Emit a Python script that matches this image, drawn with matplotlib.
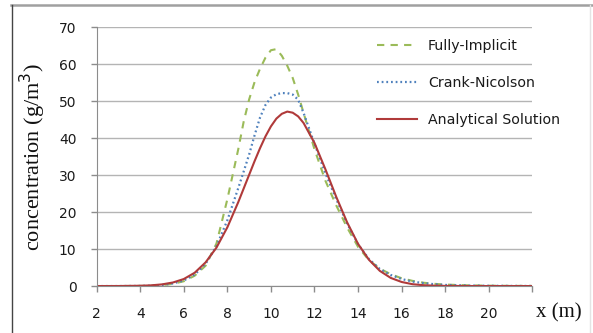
import matplotlib
matplotlib.use("Agg")
import matplotlib.pyplot as plt
from matplotlib.lines import Line2D

# distance along the channel (m)
x_m = [2, 3, 4, 4.5, 5, 5.5, 6, 6.5, 7, 7.5, 8, 8.5, 8.75, 9, 9.25, 9.5, 9.75,
       10, 10.25, 10.5, 10.75, 11, 11.25, 11.5, 12, 12.5, 13, 13.5, 14, 14.5,
       15, 15.5, 16, 16.5, 17, 17.5, 18, 19, 20, 21, 22]

# concentration (g/m3) for each scheme
fully_implicit = [0, 0, 0.03, 0.08, 0.25, 0.6, 1.3, 2.8, 5.5, 11.5, 23.5, 37.0,
                  44.5, 50.5, 55.2, 58.8, 61.8, 63.8, 64.1, 62.3, 59.6, 56.3,
                  51.8, 46.8, 37.0, 28.5, 21.8, 15.8, 10.6, 7.0, 4.7, 3.2, 2.1,
                  1.4, 0.9, 0.6, 0.4, 0.2, 0.1, 0.05, 0.03]
crank_nicolson = [0, 0, 0.03, 0.1, 0.3, 0.7, 1.5, 3.1, 6.0, 10.8, 17.8, 26.5,
                  31.0, 35.6, 40.8, 45.6, 49.0, 51.0, 51.9, 52.2, 52.2, 51.8,
                  50.4, 46.8, 38.5, 30.5, 23.5, 16.9, 11.3, 7.3, 4.6, 3.0, 1.9,
                  1.2, 0.8, 0.5, 0.3, 0.15, 0.08, 0.04, 0.02]
analytical = [0, 0.01, 0.08, 0.19, 0.45, 0.96, 1.9, 3.6, 6.4, 10.4, 15.9, 22.7,
              26.4, 30.1, 33.8, 37.3, 40.5, 43.2, 45.3, 46.6, 47.2, 46.9, 45.9,
              44.1, 38.7, 31.6, 24.1, 17.2, 11.4, 7.1, 4.1, 2.2, 1.1, 0.5, 0.23,
              0.1, 0.04, 0.01, 0, 0, 0]

x_ticks = [2, 4, 6, 8, 10, 12, 14, 16, 18, 20]
y_ticks = [0, 10, 20, 30, 40, 50, 60, 70]

sans = ["DejaVu Sans"]
serif = ["Liberation Serif", "DejaVu Serif"]

fig = plt.figure(figsize=(5.93, 3.33), dpi=100)
ax = fig.add_axes([0.163, 0.141, 0.7347, 0.777])

ax.plot(x_m, fully_implicit, color="#9BBB59", lw=1.5,
        linestyle=(0, (3.5, 3)), label="Fully-Implicit")
ax.plot(x_m, crank_nicolson, color="#4F81BD", lw=1.6,
        linestyle=(0, (0.8, 1.3)), label="Crank-Nicolson")
ax.plot(x_m, analytical, color="#B03A3A", lw=1.5, label="Analytical Solution")

ax.set_xlim(2, 22)
ax.set_ylim(0, 70)
ax.set_xticks(x_ticks + [22])
ax.set_xticklabels([str(t) for t in x_ticks] + [""])
ax.set_yticks(y_ticks)

ax.grid(axis="y", color="#b4b4b4", lw=1)
ax.set_axisbelow(True)
for side in ("top", "right"):
    ax.spines[side].set_visible(False)
for side in ("left", "bottom"):
    ax.spines[side].set_color("#8c8c8c")
ax.tick_params(axis="both", colors="#8c8c8c", length=4.5, width=1,
               labelcolor="#1a1a1a")
ax.tick_params(axis="x", pad=10.5)
ax.tick_params(axis="y", pad=10)
for lbl in ax.get_xticklabels() + ax.get_yticklabels():
    lbl.set_family(sans)
    lbl.set_fontsize(10)

ax.set_ylabel("concentration (g/m$^3$)", family=serif, fontsize=16,
              color="#111111", labelpad=8)
fig.text(536 / 593, 1 - 313 / 333, "x (m)", family=serif, fontsize=15,
         color="#111111", ha="left", va="center")

leg = ax.legend(loc="upper left", bbox_to_anchor=(370 / 593, 1 - 32 / 333),
                bbox_transform=fig.transFigure, frameon=False, borderpad=0,
                handlelength=2.8, handletextpad=0.78, labelspacing=1.62,
                prop={"family": sans, "size": 10.2})
for t in leg.get_texts():
    t.set_color("#1a1a1a")

# frame around the chart
fig.add_artist(Line2D([11 / 593, 592 / 593], [1 - 5 / 333, 1 - 5 / 333],
                      transform=fig.transFigure, color="#a0a0a0", lw=1.8))
fig.add_artist(Line2D([11.5 / 593, 11.5 / 593], [0, 1 - 5 / 333],
                      transform=fig.transFigure, color="#444444", lw=1))
fig.add_artist(Line2D([590 / 593, 590 / 593], [0, 1 - 5 / 333],
                      transform=fig.transFigure, color="#e4e4e4", lw=1))

fig.savefig("out.png", dpi=100)
